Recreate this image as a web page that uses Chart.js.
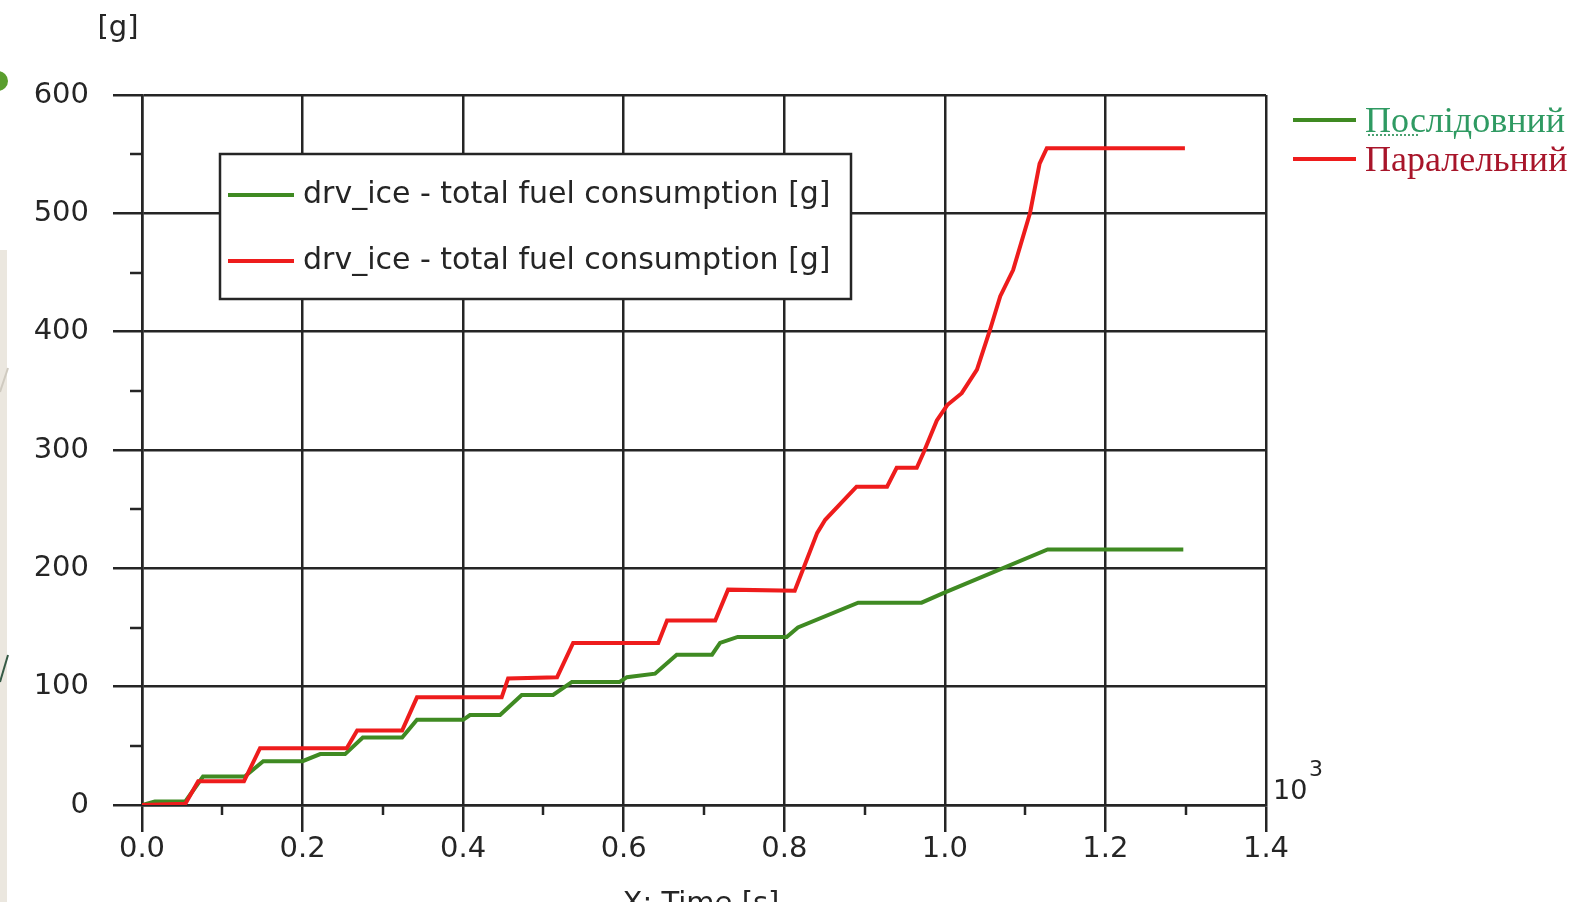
<!doctype html>
<html lang="uk">
<head>
  <meta charset="utf-8">
  <title>drv_ice - total fuel consumption</title>
  <script src="https://cdn.jsdelivr.net/npm/chart.js"></script>
  <style>
    html, body { margin: 0; padding: 0; background: #fff; }
    #wrap { position: relative; width: 1588px; height: 902px; overflow: hidden; }
  </style>
</head>
<body>
  <div id="wrap">
    <canvas id="fuelChart"></canvas>
  </div>
  <script>
    // time in 10^3 s, fuel in g
    var seqTime = [0, 0.016, 0.054, 0.076, 0.128, 0.151, 0.200, 0.222, 0.253, 0.275, 0.324, 0.3425, 0.400, 0.4085,
                   0.446, 0.473, 0.512, 0.5355, 0.595, 0.604, 0.639, 0.666, 0.710, 0.720, 0.742, 0.803, 0.817,
                   0.892, 0.971, 0.998, 1.128, 1.297];
    var seqFuel = [0, 3, 3, 24, 24, 37, 37, 43, 43, 57, 57, 72, 72, 76,
                   76, 93, 93, 104, 104, 108, 111, 127, 127, 137, 142, 142, 150,
                   171, 171, 179, 216, 216];

    var parTime = [0, 0.054, 0.070, 0.127, 0.147, 0.255, 0.268, 0.324, 0.3425, 0.448, 0.456, 0.517, 0.537,
                   0.643, 0.654, 0.714, 0.730, 0.813, 0.841, 0.851, 0.890, 0.928, 0.940, 0.965, 0.973,
                   0.990, 1.003, 1.021, 1.040, 1.056, 1.069, 1.085, 1.106, 1.118, 1.127, 1.299];
    var parFuel = [0, 1, 20, 20, 48, 48, 63, 63, 91, 91, 107, 108, 137,
                   137, 156, 156, 182, 181, 230, 241, 269, 269, 285, 285, 297,
                   325, 338, 348, 368, 401, 430, 452, 500, 542, 555, 555];

    var seriesNames = ['Послідовний', 'Паралельний'];
    var seriesColors = ['#3f8a22', '#ee1c1c'];
    var nameColors = ['#2f9a62', '#a8152a'];
    var traceLabel = 'drv_ice - total fuel consumption [g]';
    var xTicks = [0, 0.2, 0.4, 0.6, 0.8, 1.0, 1.2, 1.4];
    var yTicks = [0, 100, 200, 300, 400, 500, 600];

    function toPoints(xs, ys) {
      var pts = [];
      for (var i = 0; i < xs.length; i++) pts.push({x: xs[i], y: ys[i]});
      return pts;
    }

    var ink = '#252525';
    var tickFont = {family: 'DejaVu Sans', size: 29};

    // page edge, axis captions, minor ticks
    var extras = {
      id: 'extras',
      beforeDraw: function(chart) {
        var ctx = chart.ctx;
        ctx.save();
        ctx.fillStyle = '#ebe7df';
        ctx.fillRect(0, 250, 7, 652);
        ctx.fillStyle = '#5a9e2e';
        ctx.beginPath();
        ctx.arc(-2, 81, 10, 0, Math.PI * 2);
        ctx.fill();
        ctx.lineWidth = 2;
        ctx.strokeStyle = '#cfcac0';
        ctx.beginPath(); ctx.moveTo(0, 392); ctx.lineTo(8, 368); ctx.stroke();
        ctx.strokeStyle = '#355a45';
        ctx.beginPath(); ctx.moveTo(0, 682); ctx.lineTo(8, 655); ctx.stroke();
        ctx.restore();
      },
      afterDraw: function(chart) {
        var ctx = chart.ctx;
        var xs = chart.scales.x, ys = chart.scales.y;
        ctx.save();
        ctx.strokeStyle = ink;
        ctx.lineWidth = 2.5;
        for (var v = 50; v < 600; v += 100) {
          var py = Math.round(ys.getPixelForValue(v));
          ctx.beginPath(); ctx.moveTo(xs.left - 12, py); ctx.lineTo(xs.left, py); ctx.stroke();
        }
        for (var t = 1; t < 14; t += 2) {
          var px = Math.round(xs.getPixelForValue(t / 10));
          ctx.beginPath(); ctx.moveTo(px, ys.bottom); ctx.lineTo(px, ys.bottom + 10); ctx.stroke();
        }
        ctx.fillStyle = ink;
        ctx.font = '29px "DejaVu Sans"';
        ctx.textAlign = 'center';
        ctx.textBaseline = 'middle';
        ctx.fillText('[g]', 118, 28);
        ctx.textBaseline = 'top';
        ctx.fillText('X: Time [s]', 701, 890);
        ctx.textAlign = 'left';
        ctx.textBaseline = 'alphabetic';
        ctx.font = '27px "DejaVu Sans"';
        ctx.fillText('10', 1273, 799);
        ctx.font = '22px "DejaVu Sans"';
        ctx.fillText('3', 1309, 776);
        ctx.restore();
      }
    };

    // boxed trace legend inside the plot plus the series names on the right
    var legends = {
      id: 'legends',
      afterDatasetsDraw: function(chart) {
        var ctx = chart.ctx;
        ctx.save();
        ctx.fillStyle = '#fff';
        ctx.fillRect(220, 154, 631, 145);
        ctx.strokeStyle = ink;
        ctx.lineWidth = 2.5;
        ctx.strokeRect(220, 154, 631, 145);
        ctx.font = '30px "DejaVu Sans"';
        ctx.textBaseline = 'middle';
        ctx.textAlign = 'left';
        chart.data.datasets.forEach(function(ds) {
          var y = ds.legendRow === 0 ? 195 : 261;
          ctx.strokeStyle = ds.borderColor;
          ctx.lineWidth = 4;
          ctx.beginPath(); ctx.moveTo(228, y); ctx.lineTo(294, y); ctx.stroke();
          ctx.fillStyle = ink;
          ctx.fillText(traceLabel, 303, y);
        });

        ctx.font = '36px "Liberation Serif"';
        ctx.textBaseline = 'alphabetic';
        seriesNames.forEach(function(name, i) {
          var y = i === 0 ? 120 : 159;
          ctx.strokeStyle = seriesColors[i];
          ctx.lineWidth = 4;
          ctx.beginPath(); ctx.moveTo(1293, y); ctx.lineTo(1356, y); ctx.stroke();
          ctx.fillStyle = nameColors[i];
          ctx.fillText(name, 1365, y + 12);
        });
        // spell-check dots under the first name
        ctx.fillStyle = '#4aa070';
        for (var dx = 1368; dx < 1420; dx += 4) ctx.fillRect(dx, 134, 2, 2);
        ctx.restore();
      }
    };

    var config = {
      type: 'line',
      data: {
        datasets: [
          {
            label: seriesNames[1],
            data: toPoints(parTime, parFuel),
            borderColor: seriesColors[1],
            borderWidth: 4,
            pointRadius: 0,
            tension: 0,
            legendRow: 1
          },
          {
            label: seriesNames[0],
            data: toPoints(seqTime, seqFuel),
            borderColor: seriesColors[0],
            borderWidth: 4,
            pointRadius: 0,
            tension: 0,
            legendRow: 0
          }
        ]
      },
      options: {
        responsive: true,
        maintainAspectRatio: false,
        animation: false,
        layout: {padding: {top: 95, right: 322, left: 0, bottom: 0}},
        plugins: {legend: {display: false}, tooltip: {enabled: false}},
        scales: {
          x: {
            type: 'linear',
            min: 0,
            max: 1.4,
            afterFit: function(s) { s.height = 97; },
            afterBuildTicks: function(s) { s.ticks = xTicks.map(function(v) { return {value: v}; }); },
            ticks: {
              font: tickFont,
              color: ink,
              padding: 0,
              maxRotation: 0,
              callback: function(v) { return Number(v).toFixed(1); }
            },
            grid: {color: ink, lineWidth: 2.5, tickLength: 27, tickColor: ink},
            border: {color: ink, width: 2.5}
          },
          y: {
            min: 0,
            max: 600,
            afterFit: function(s) { s.width = 142; },
            afterBuildTicks: function(s) { s.ticks = yTicks.map(function(v) { return {value: v}; }); },
            ticks: {font: tickFont, color: ink, padding: 24},
            grid: {color: ink, lineWidth: 2.5, tickLength: 29, tickColor: ink},
            border: {color: ink, width: 2.5}
          }
        }
      },
      plugins: [extras, legends]
    };

    new Chart(document.getElementById('fuelChart'), config);
  </script>
</body>
</html>
